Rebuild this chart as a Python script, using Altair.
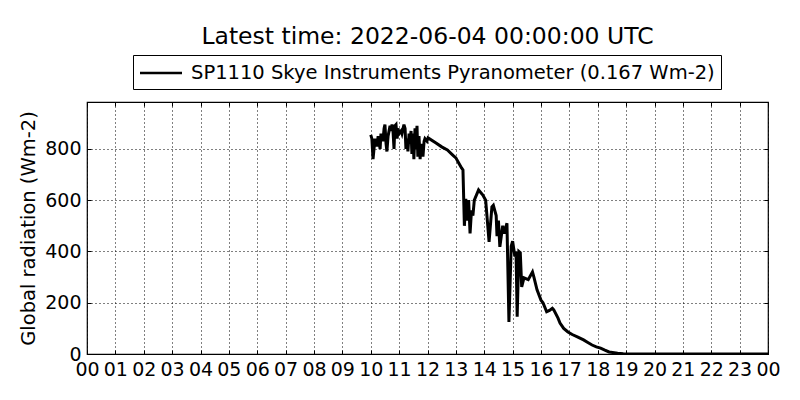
import altair as alt
import pandas as pd

# ---- data (decimal hours UTC, W m-2) ----
hours = [
    10.00, 10.04, 10.08, 10.15, 10.22, 10.26, 10.33, 10.36, 10.43, 10.47,
    10.50, 10.54, 10.57, 10.61, 10.68, 10.71, 10.75, 10.78, 10.82, 10.85,
    10.89, 10.93, 10.96, 11.00, 11.07, 11.10, 11.14, 11.17, 11.21, 11.24,
    11.28, 11.31, 11.35, 11.38, 11.42, 11.45, 11.49, 11.52, 11.56, 11.59,
    11.63, 11.66, 11.70, 11.74, 11.77, 11.81, 11.84, 11.88, 11.91, 11.98,
    12.02, 12.30, 12.50, 12.70, 12.90, 13.00, 13.10, 13.20, 13.25, 13.30,
    13.35, 13.40, 13.45, 13.50, 13.55, 13.60, 13.65, 13.80, 13.95, 14.05,
    14.17, 14.27, 14.32, 14.42, 14.45, 14.50, 14.55, 14.65, 14.70, 14.80,
    14.87, 14.95, 15.00, 15.08, 15.12, 15.16, 15.22, 15.27, 15.32, 15.40,
    15.55, 15.70, 15.75, 15.86, 16.00, 16.07, 16.20, 16.30, 16.40, 16.45,
    16.60, 16.67, 16.80, 16.95, 17.10, 17.30, 17.50, 17.65, 17.80, 17.95,
    18.10, 18.25, 18.40, 18.70, 18.90, 19.20, 24.00,
]
radiation = [
    855, 840, 760, 840, 810, 850, 800, 860, 830, 880,
    895, 820, 790, 850, 890, 870, 895, 880, 800, 890,
    895, 840, 880, 860, 870, 860, 880, 895, 880, 800,
    840, 790, 860, 820, 870, 780, 860, 760, 880, 800,
    890, 770, 850, 760, 820, 790, 770, 830, 840, 830,
    843, 823, 808, 796, 775, 765, 745, 726, 718, 500,
    605, 520, 600, 470, 560, 540, 600, 640, 620, 600,
    437, 574, 580, 540, 460, 520, 418, 500, 470, 510,
    125, 420, 440, 380, 400, 145, 400, 395, 262, 297,
    290, 320, 300, 250, 210, 200, 165, 170, 178, 172,
    140, 121, 100, 86, 76, 66, 55, 45, 35, 28,
    23, 15, 8, 3, 1, 0, 0,
]
series_name = "SP1110 Skye Instruments Pyranometer (0.167 Wm-2)"
title_text = "Latest time: 2022-06-04 00:00:00 UTC"
y_title = "Global radiation (Wm-2)"
hour_ticks = list(range(0, 25))
y_ticks = [0, 200, 400, 600, 800]

df = pd.DataFrame({"hour": hours, "radiation": radiation, "series": series_name})

FONT = "DejaVu Sans"
x_scale = alt.Scale(domain=[0, 24], nice=False, zero=False)
y_scale = alt.Scale(domain=[0, 983], nice=False, zero=False)
label_expr = "datum.value == 24 ? '00' : (datum.value < 10 ? '0' + datum.value : '' + datum.value)"

main = alt.Chart(df).mark_line(strokeWidth=3, clip=True).encode(
    x=alt.X(
        "hour:Q", scale=x_scale,
        axis=alt.Axis(
            values=hour_ticks, labelExpr=label_expr, title=None,
            grid=True, gridColor="black", gridDash=[1, 3], gridOpacity=1, gridWidth=1,
            domain=False, ticks=True, tickSize=4, offset=-4, tickColor="black", tickWidth=1,
            labelPadding=6, labelFontSize=19, labelColor="black", labelFont=FONT,
            labelFlush=False, labelOverlap=False,
        ),
    ),
    y=alt.Y(
        "radiation:Q", scale=y_scale,
        axis=alt.Axis(
            values=y_ticks, title=y_title, titleFont=FONT, titleFontSize=19.5,
            titleFontWeight="normal", titleColor="black", titlePadding=6,
            grid=True, gridColor="black", gridDash=[1, 3], gridOpacity=1, gridWidth=1,
            domain=False, ticks=True, tickSize=4, offset=-4, tickColor="black", tickWidth=1,
            labelPadding=6, labelFontSize=19, labelColor="black", labelFont=FONT,
            labelFlush=False, labelOverlap=False,
        ),
    ),
    color=alt.Color(
        "series:N", scale=alt.Scale(range=["black"]),
        legend=alt.Legend(
            title=None, orient="none", legendX=46, legendY=-47,
            padding=6, strokeColor="black", fillColor="white", cornerRadius=0,
            labelFont=FONT, labelFontSize=19.5, labelColor="black",
            symbolType="M-2,0L2,0", symbolSize=441, symbolStrokeWidth=2.5,
            symbolStrokeColor="black", symbolOffset=10, labelOffset=18,
            labelLimit=0,
        ),
    ),
)

ticks_layer = alt.Chart(df).mark_line(opacity=0).encode(
    x=alt.X(
        "hour:Q", scale=x_scale,
        axis=alt.Axis(
            orient="top", values=hour_ticks, labels=False, title=None, grid=False,
            domain=False, ticks=True, tickSize=4, offset=-4, tickColor="black",
        ),
    ),
    y=alt.Y(
        "radiation:Q", scale=y_scale,
        axis=alt.Axis(
            orient="right", values=y_ticks, labels=False, title=None, grid=False,
            domain=False, ticks=True, tickSize=4, offset=-4, tickColor="black",
        ),
    ),
)

chart = alt.layer(main, ticks_layer).resolve_axis(
    x="independent", y="independent"
).properties(
    width=681, height=252,
    background="white",
    title=alt.TitleParams(
        title_text, font=FONT, fontSize=23.5, fontWeight="normal", color="black",
        anchor="middle", frame="group", offset=6,
    ),
    autosize=alt.AutoSizeParams(type="none"),
    padding={"left": 79, "top": 94, "right": 24, "bottom": 38},
).configure_view(
    stroke="black", strokeWidth=1.2
)

chart.save("out.html", embed_options={"renderer": "svg", "actions": False})
